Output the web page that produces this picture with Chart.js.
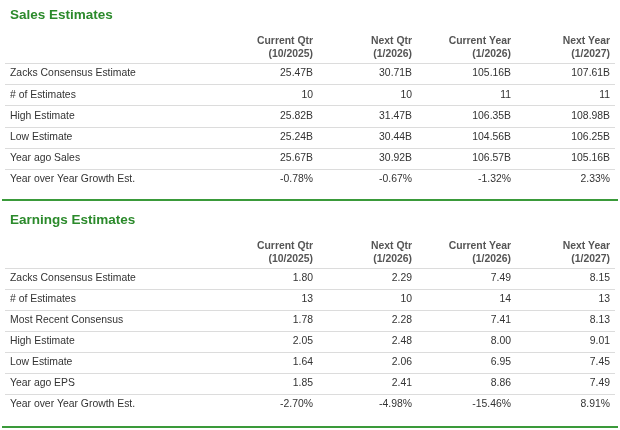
<!DOCTYPE html>
<html>
<head>
<meta charset="utf-8">
<script src="https://cdn.jsdelivr.net/npm/chart.js@4"></script>
<style>
  body { margin: 0; background: #fff; }
  .box { position: absolute; left: 0; width: 620px; }
</style>
</head>
<body>
<div class="box" style="top:0;height:203px"><canvas id="sales"></canvas></div>
<div class="box" style="top:203px;height:227px"><canvas id="eps"></canvas></div>
<script>
const columns = ["Current Qtr", "Next Qtr", "Current Year", "Next Year"];
const periods = ["(10/2025)", "(1/2026)", "(1/2026)", "(1/2027)"];

const salesRows = ["Zacks Consensus Estimate", "# of Estimates", "High Estimate", "Low Estimate", "Year ago Sales", "Year over Year Growth Est."];
const salesCurQtr = ["25.47B", "10", "25.82B", "25.24B", "25.67B", "-0.78%"];
const salesNextQtr = ["30.71B", "10", "31.47B", "30.44B", "30.92B", "-0.67%"];
const salesCurYear = ["105.16B", "11", "106.35B", "104.56B", "106.57B", "-1.32%"];
const salesNextYear = ["107.61B", "11", "108.98B", "106.25B", "105.16B", "2.33%"];

const epsRows = ["Zacks Consensus Estimate", "# of Estimates", "Most Recent Consensus", "High Estimate", "Low Estimate", "Year ago EPS", "Year over Year Growth Est."];
const epsCurQtr = ["1.80", "13", "1.78", "2.05", "1.64", "1.85", "-2.70%"];
const epsNextQtr = ["2.29", "10", "2.28", "2.48", "2.06", "2.41", "-4.98%"];
const epsCurYear = ["7.49", "14", "7.41", "8.00", "6.95", "8.86", "-15.46%"];
const epsNextYear = ["8.15", "13", "8.13", "9.01", "7.45", "7.49", "8.91%"];

const FONT = "Liberation Sans, Arial, sans-serif";

const tablePlugin = {
  id: "tableText",
  afterDraw(chart) {
    const o = chart.options.plugins.tableText;
    const ctx = chart.ctx, x = chart.scales.x, y = chart.scales.y, a = chart.chartArea;
    const W = chart.width;
    ctx.save();
    // title
    ctx.fillStyle = "#2b8a2b";
    ctx.font = "bold 13.5px " + FONT;
    ctx.textBaseline = "middle";
    ctx.textAlign = "left";
    ctx.fillText(o.title, 10, o.titleY);
    // column headers
    const colW = (a.right - a.left) / columns.length;
    ctx.font = "bold 10.4px " + FONT;
    ctx.fillStyle = "#555";
    ctx.textAlign = "right";
    columns.forEach((c, j) => {
      const rx = x.getPixelForValue(j) + colW / 2 - 2;
      ctx.fillText(c, rx, a.top - 22);
      ctx.fillText(periods[j], rx, a.top - 9);
    });
    // rows
    const rowH = (a.bottom - a.top) / o.rows.length;
    ctx.strokeStyle = "#dcdcdc";
    ctx.lineWidth = 1;
    ctx.beginPath();
    ctx.moveTo(5, a.top + 0.5); ctx.lineTo(W - 5, a.top + 0.5);
    ctx.stroke();
    o.rows.forEach((r, i) => {
      const cy = y.getPixelForValue(i);
      ctx.font = "10.4px " + FONT;
      ctx.fillStyle = "#333";
      ctx.textAlign = "left";
      ctx.fillText(r, 10, cy);
      ctx.textAlign = "right";
      o.cells.forEach((col, j) => {
        ctx.fillText(col[i], x.getPixelForValue(j) + colW / 2 - 2, cy);
      });
      if (i < o.rows.length - 1) {
        const ly = Math.round(cy + rowH / 2) + 0.5;
        ctx.beginPath();
        ctx.moveTo(5, ly); ctx.lineTo(W - 5, ly);
        ctx.stroke();
      }
    });
    // green separator
    ctx.strokeStyle = "#3a9a3a";
    ctx.lineWidth = 2;
    ctx.beginPath();
    ctx.moveTo(2, o.greenY); ctx.lineTo(W - 2, o.greenY);
    ctx.stroke();
    ctx.restore();
  }
};

function makeTable(id, title, rows, cells, pad, titleY, greenY) {
  return new Chart(document.getElementById(id), {
    type: "bar",
    data: {
      labels: columns,
      datasets: [{ data: columns.map(() => null) }]
    },
    options: {
      responsive: true,
      maintainAspectRatio: false,
      animation: false,
      events: [],
      layout: { padding: pad },
      plugins: {
        legend: { display: false },
        tooltip: { enabled: false },
        tableText: { title: title, titleY: titleY, rows: rows, cells: cells, greenY: greenY }
      },
      scales: {
        x: { type: "category", display: false, offset: true },
        y: { type: "category", labels: rows, display: false, offset: true }
      }
    },
    plugins: [tablePlugin]
  });
}

makeTable("sales", "Sales Estimates", salesRows,
  [salesCurQtr, salesNextQtr, salesCurYear, salesNextYear],
  { left: 216, right: 8, top: 63, bottom: 13 }, 15, 200);

makeTable("eps", "Earnings Estimates", epsRows,
  [epsCurQtr, epsNextQtr, epsCurYear, epsNextYear],
  { left: 216, right: 8, top: 65, bottom: 15 }, 17, 224);
</script>
</body>
</html>
